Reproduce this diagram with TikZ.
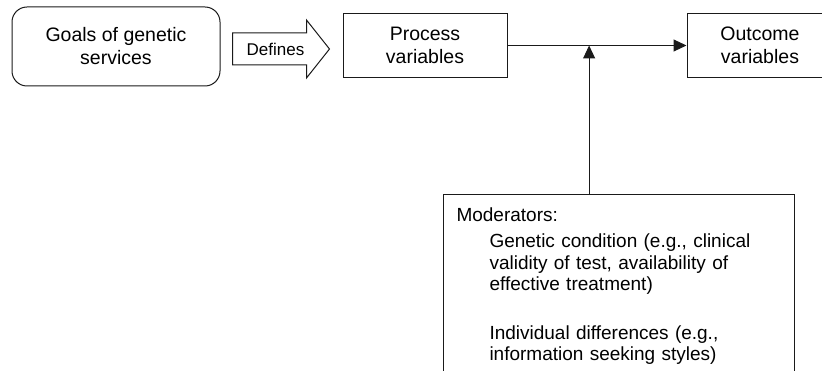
\documentclass[tikz,border=0pt]{standalone}
\usepackage{fontspec}
\setmainfont{Liberation Sans}
\usetikzlibrary{arrows.meta,positioning,calc}
\definecolor{ink}{HTML}{1A1A1A}

\tikzset{
  box/.style={draw=ink, line width=1pt, align=center, inner sep=0pt,
    font=\fontsize{19.5}{23}\selectfont},
  flow/.style={draw=ink, line width=1pt, -{Triangle[length=13pt,width=12pt]}},
  blockarrow/.style={draw=ink, line width=1pt, fill=white}
}

\begin{document}
\begin{tikzpicture}[x=1pt, y=-1pt]
  \useasboundingbox (0,0) rectangle (822,371);

  % top row
  \node[box, rounded corners=15pt, minimum width=208pt, minimum height=79pt] (goals) at (116,46.5) {Goals of genetic\\services};
  \node[box, minimum width=164pt, minimum height=64pt] (process) at (425,45.5) {Process\\variables};
  \node[box, minimum width=146pt, minimum height=64pt] (outcome) at (760,45.5) {Outcome\\variables};

  % the "Defines" block arrow
  \coordinate (dstart) at ($(goals.east)+(12,2.5)$);
  \coordinate (dtip) at ($(dstart -| process.west)+(-13,0)$);
  \draw[blockarrow] ($(dstart)+(0,-16)$) -- ($(dtip)+(-23,-16)$) -- ($(dtip)+(-23,-29)$)
    -- (dtip) -- ($(dtip)+(-23,29)$) -- ($(dtip)+(-23,16)$) -- ($(dstart)+(0,16)$) -- cycle;
  \node[font=\fontsize{17}{20}\selectfont] (defines) at (275.5,49) {Defines};

  \draw[flow] (process.east) -- (outcome.west);

  % moderators
  \node[box, anchor=north west, align=left, text width=325pt, inner xsep=13pt, inner ysep=13pt,
    font=\fontsize{19}{21.5}\selectfont] (mod) at (443,194) {Moderators:\\[5pt]
    \hspace*{33pt}Genetic condition (e.g., clinical\\
    \hspace*{33pt}validity of test, availability of\\
    \hspace*{33pt}effective treatment)\\[27pt]
    \hspace*{33pt}Individual differences (e.g.,\\
    \hspace*{33pt}information seeking styles)};

  \coordinate (join) at ($(process.east)!0.456!(outcome.west)$);
  \draw[flow] (join |- mod.north) -- (join);
\end{tikzpicture}
\end{document}
